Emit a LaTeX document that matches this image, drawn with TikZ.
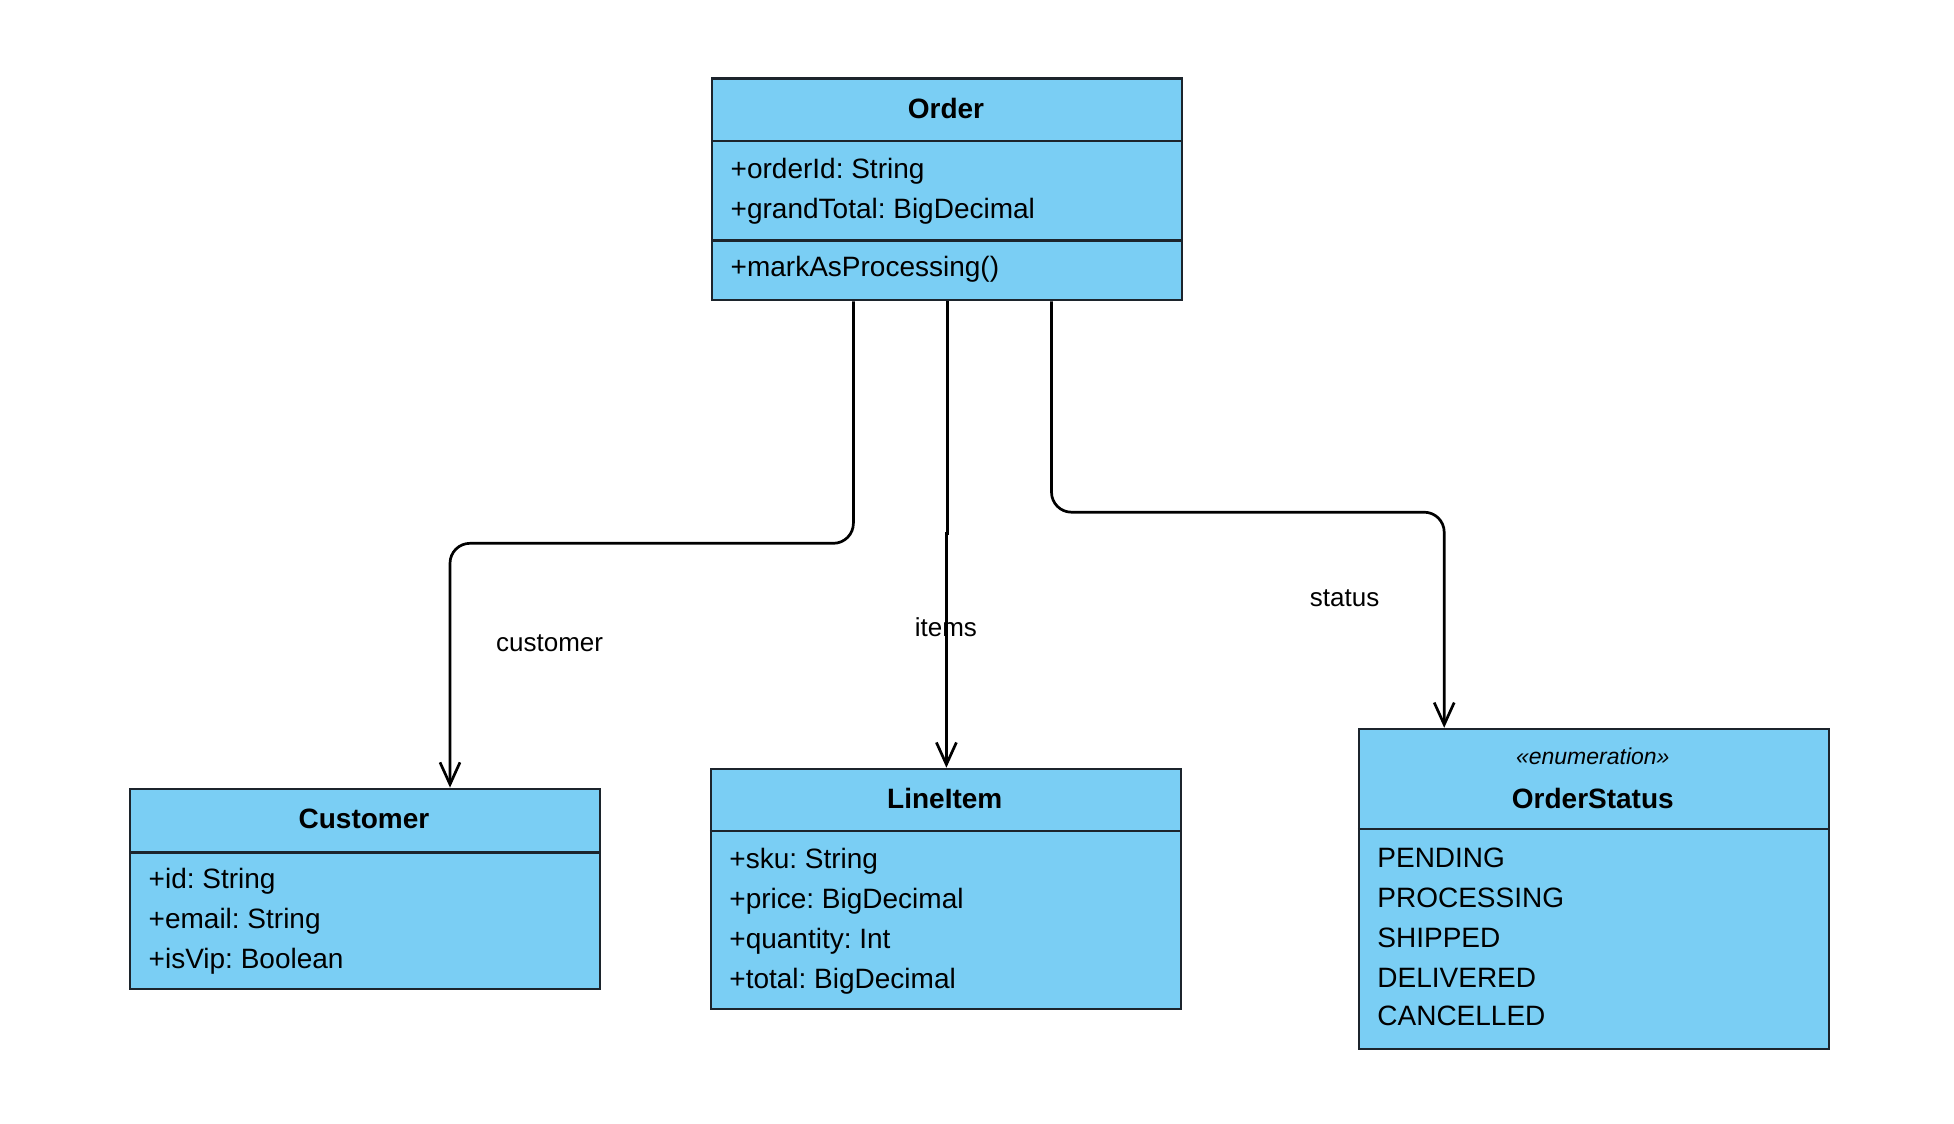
\documentclass[tikz,border=0pt]{standalone}
\usepackage{fontspec}
\setmainfont{Liberation Sans}
\usetikzlibrary{arrows.meta,calc}
\frenchspacing
\definecolor{boxfill}{RGB}{122,206,244}
\definecolor{boxdraw}{RGB}{28,36,44}
\tikzset{
  umlbox/.style={draw=boxdraw, fill=boxfill, line width=1.1pt, anchor=north west, minimum width=234.9pt, inner sep=0pt},
  divline/.style={draw=boxdraw, line width=1.1pt},
  title/.style={font=\fontsize{14pt}{16pt}\selectfont\bfseries, anchor=base, inner sep=0pt},
  attr/.style={font=\fontsize{14pt}{16pt}\selectfont, anchor=base west, inner sep=0pt},
  stereo/.style={font=\fontsize{11.5pt}{13pt}\selectfont\itshape, anchor=base, inner sep=0pt},
  lbl/.style={font=\fontsize{13pt}{15pt}\selectfont, anchor=base, inner sep=0pt},
  assoc/.style={draw=black, line width=1.35pt, rounded corners=10pt, -{Straight Barb[length=11pt,width=10pt]}}
}
\begin{document}
\begin{tikzpicture}[x=0.5pt,y=-0.5pt]
\fill[white] (0,0) rectangle (1954,1124);
\useasboundingbox (0,0) rectangle (1954,1124);

% Order
\node[umlbox, minimum height=110.9pt] (order) at (711.0,77.3) {};
\draw[divline] ([yshift=-31.75pt]order.north west) -- ([yshift=-31.75pt]order.north east);
\draw[divline] ([yshift=-81.6pt]order.north west) -- ([yshift=-81.6pt]order.north east);
\node[title] (orderT) at (946.0,118.4) {Order};
\node[attr] (orderA1) at (730.3,178.2) {+orderId: String};
\node[attr] (orderA2) at (730.3,218.1) {+grandTotal: BigDecimal};
\node[attr] (orderM1) at (730.3,276.7) {+markAsProcessing()};

% Customer
\node[umlbox, minimum height=100.3pt] (customer) at (129.0,787.6) {};
\draw[divline] ([yshift=-32.4pt]customer.north west) -- ([yshift=-32.4pt]customer.north east);
\node[title] (custT) at (364.0,828.8) {Customer};
\node[attr] (custA1) at (148.3,888.6) {+id: String};
\node[attr] (custA2) at (148.3,928.4) {+email: String};
\node[attr] (custA3) at (148.3,968.3) {+isVip: Boolean};

% LineItem
\node[umlbox, minimum height=120.25pt] (lineitem) at (709.8,767.7) {};
\draw[divline] ([yshift=-31.75pt]lineitem.north west) -- ([yshift=-31.75pt]lineitem.north east);
\node[title] (liT) at (944.8,808.8) {LineItem};
\node[attr] (liA1) at (729,868.6) {+sku: String};
\node[attr] (liA2) at (729,908.5) {+price: BigDecimal};
\node[attr] (liA3) at (729,948.4) {+quantity: Int};
\node[attr] (liA4) at (729,988.3) {+total: BigDecimal};

% OrderStatus
\node[umlbox, minimum height=160.1pt] (status) at (1357.9,727.8) {};
\draw[divline] ([yshift=-50.45pt]status.north west) -- ([yshift=-50.45pt]status.north east);
\node[stereo] (stS) at (1592.8,764.7) {«enumeration»};
\node[title] (stT) at (1592.8,808.8) {OrderStatus};
\node[attr] (stA1) at (1377,867.4) {PENDING};
\node[attr] (stA2) at (1377,907.3) {PROCESSING};
\node[attr] (stA3) at (1377,947.1) {SHIPPED};
\node[attr] (stA4) at (1377,987) {DELIVERED};
\node[attr] (stA5) at (1377,1025.7) {CANCELLED};

% connectors
\coordinate (c1s) at ([xshift=-46.8pt]order.south);
\coordinate (c1e) at ([xshift=42.5pt]customer.north);
\draw[assoc] (c1s) -- (c1s |- 0,543.3) -- (c1e |- 0,543.3) -- (c1e);

\coordinate (c2s) at ([xshift=0.35pt]order.south);
\coordinate (c2e) at ([xshift=0.3pt]lineitem.north);
\draw[assoc, rounded corners=0pt] (c2s) -- (c2s |- 0,533.3) -- (c2e |- 0,533.3) -- (c2e);

\coordinate (c3s) at ([xshift=52.25pt]order.south);
\coordinate (c3e) at ([xshift=-74.85pt]status.north);
\draw[assoc] (c3s) -- (c3s |- 0,512.2) -- (c3e |- 0,512.2) -- (c3e);

\node[lbl] (lcust) at (549.6,651.2) {customer};
\node[lbl] (litems) at (945.9,636.2) {items};
\node[lbl] (lstatus) at (1344.6,606.3) {status};
\end{tikzpicture}
\end{document}
